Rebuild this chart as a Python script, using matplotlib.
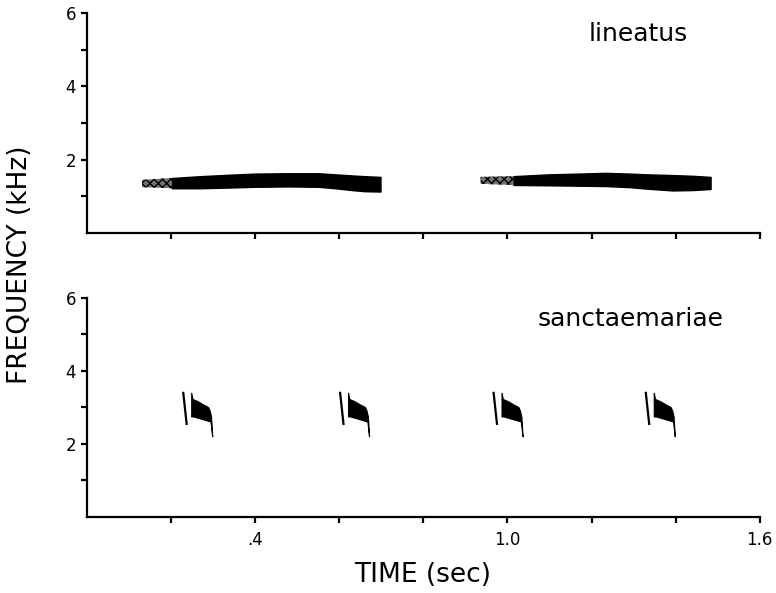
import matplotlib
matplotlib.use("Agg")
import matplotlib.pyplot as plt

plt.rcParams['font.family'] = ['DejaVu Sans']

# --- lineatus: two long notes (time in s, band upper / lower edge in kHz)
lin_t = [
    [0.202, 0.27, 0.34, 0.40, 0.48, 0.55, 0.59, 0.63, 0.66, 0.698],
    [1.014, 1.10, 1.17, 1.233, 1.29, 1.33, 1.393, 1.44, 1.483],
]
lin_hi = [
    [1.50, 1.55, 1.59, 1.62, 1.63, 1.63, 1.60, 1.57, 1.55, 1.53],
    [1.55, 1.60, 1.62, 1.64, 1.62, 1.60, 1.58, 1.56, 1.53],
]
lin_lo = [
    [1.22, 1.22, 1.24, 1.26, 1.27, 1.26, 1.22, 1.17, 1.14, 1.13],
    [1.31, 1.30, 1.29, 1.28, 1.25, 1.21, 1.16, 1.17, 1.20],
]
# faint start of each note
lin_on_t = [[0.131, 0.202], [0.936, 1.014]]
lin_on_hi = [[1.45, 1.50], [1.53, 1.55]]
lin_on_lo = [[1.25, 1.22], [1.34, 1.31]]

# --- sanctaemariae: four short notes, same shape
san_onsets = [0.229, 0.602, 0.967, 1.329]
click_dt = [0.0, 0.008]
click_f = [3.40, 2.55]
body_dt = [0.020, 0.023, 0.035, 0.050, 0.060, 0.064, 0.067, 0.068, 0.070,
           0.066, 0.055, 0.040, 0.025, 0.020]
body_f = [3.40, 3.22, 3.16, 3.06, 3.00, 2.90, 2.75, 2.60, 2.19,
          2.60, 2.64, 2.69, 2.74, 2.74]

x_ticks = [0.2, 0.4, 0.6, 0.8, 1.0, 1.2, 1.4, 1.6]
x_labels = ['', '.4', '', '', '1.0', '', '', '1.6']
y_ticks = [1, 2, 3, 4, 5, 6]
y_labels = ['', '2', '', '4', '', '6']

fig = plt.figure(figsize=(7.76, 5.93), dpi=100)
ax1 = fig.add_axes([0.1121, 0.6071, 0.867, 0.371])
ax2 = fig.add_axes([0.1121, 0.1282, 0.867, 0.3693])

for ax in (ax1, ax2):
    ax.set_xlim(0, 1.6)
    ax.set_ylim(0, 6)
    for s in ('top', 'right'):
        ax.spines[s].set_visible(False)
    for s in ('left', 'bottom'):
        ax.spines[s].set_linewidth(1.6)
    ax.set_xticks(x_ticks)
    ax.set_yticks(y_ticks)
    ax.set_yticklabels(y_labels)
    ax.tick_params(direction='out', length=4, width=1.6, labelsize=12, pad=4)

ax1.set_xticklabels([''] * len(x_ticks))
ax2.set_xticklabels(x_labels)
ax2.tick_params(axis='x', pad=6)

# lineatus notes
for t, hi, lo in zip(lin_t, lin_hi, lin_lo):
    ax1.fill_between(t, lo, hi, color='black', lw=1.0)
for t, hi, lo in zip(lin_on_t, lin_on_hi, lin_on_lo):
    ax1.fill_between(t, lo, hi, facecolor='0.45', edgecolor='black',
                     hatch='xxxx', lw=0)
ax1.text(1.193, 5.24, 'lineatus', fontsize=18, ha='left', va='baseline')

# sanctaemariae notes
for on in san_onsets:
    ax2.plot([on + d for d in click_dt], click_f, color='black', lw=1.6)
    ax2.fill([on + d for d in body_dt], body_f, color='black', lw=0.8)
ax2.text(1.071, 5.24, 'sanctaemariae', fontsize=18, ha='left', va='baseline')

fig.text(0.026, 0.553, 'FREQUENCY (kHz)', rotation=90, fontsize=19,
         ha='center', va='center')
fig.text(0.545, 0.019, 'TIME (sec)', fontsize=19, ha='center', va='baseline')

fig.savefig('out.png', dpi=100)
